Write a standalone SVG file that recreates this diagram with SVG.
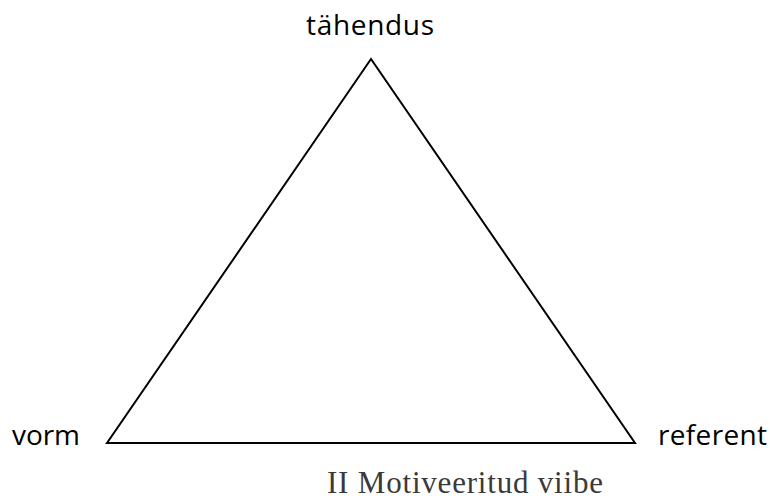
<svg xmlns="http://www.w3.org/2000/svg" width="770" height="502" viewBox="0 0 770 502">
<style>
.lbl{font-family:"Open Sans","Noto Sans",sans-serif;font-size:28px;fill:#000}
.cap{font-family:"Liberation Serif",serif;font-size:31px;fill:#3a3a3a}
.edge{stroke:#000;stroke-width:2;fill:none;stroke-linejoin:miter}
</style>
<rect width="770" height="502" fill="#fff"/>
<g id="connectors">
<polygon class="edge" points="371,59 107,443 635,443"/>
</g>
<g id="tahendus"><text class="lbl" x="370" y="35" text-anchor="middle" textLength="128">tähendus</text></g>
<g id="vorm"><text class="lbl" x="12" y="445" textLength="68">vorm</text></g>
<g id="referent"><text class="lbl" x="658" y="445" textLength="109">referent</text></g>
<g id="caption"><text class="cap" x="327" y="493" textLength="276">II Motiveeritud viibe</text></g>
</svg>
